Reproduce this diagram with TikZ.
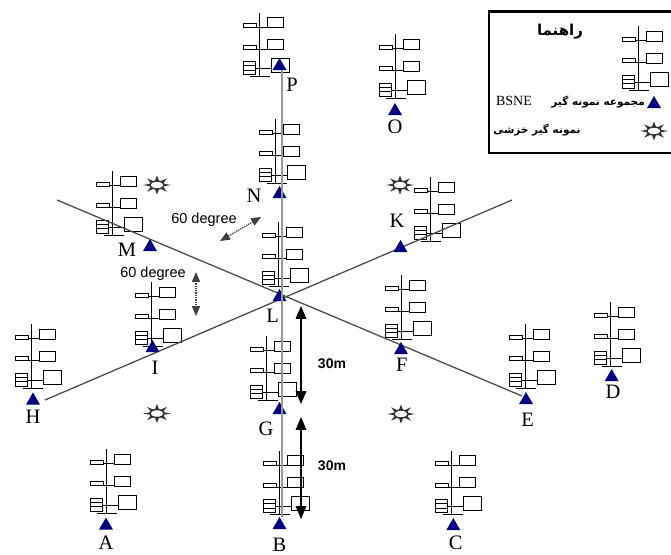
\documentclass[tikz,border=0pt]{standalone}
\usepackage{fontspec}
\setmainfont{Liberation Serif}
\newfontfamily\arialfont{Liberation Sans}
\newfontfamily\farsifont[Script=Arabic]{DejaVu Sans}
\TeXXeTstate=1
\usetikzlibrary{arrows,shapes.geometric}
\definecolor{bsneblue}{RGB}{0,0,128}
\tikzset{
  samp_tri/.style = {regular polygon, regular polygon sides=3, fill=bsneblue,
    inner sep=0pt, minimum size=16pt},% BSNE sampler
  samp_lbl/.style = {inner sep=0pt, font=\fontsize{20.5}{21}\selectfont},
  deg_lbl/.style = {inner sep=0pt, font=\arialfont\fontsize{14.5}{15}\selectfont},
  dist_lbl/.style = {inner sep=0pt, font=\arialfont\bfseries\fontsize{14}{14}\selectfont},
  fa_lbl/.style = {inner sep=0pt, font=\farsifont\bfseries\fontsize{10.5}{11}\selectfont},
  trans_ln/.style = {line width=1.3pt, black!70},
  axis_ln/.style = {line width=2.5pt, black!40},
  deg_arr/.style = {<->, >=triangle 45, densely dotted, line width=1.3pt, black!75},
  dist_arr/.style = {<->, >=triangle 45, line width=2pt},
  sampler/.pic = {
    \draw[line width=0.9pt] (0,0) -- (0,64) (-9,64) -- (11,64);
    \draw[line width=0.9pt] (-16,11) rectangle (-3,15) (8,5) rectangle (24,15)
      (-3,14.5) -- (8,14.5);
    \draw[line width=0.9pt] (-16,32.5) rectangle (-3,36.5) (8,27) rectangle (24,37)
      (-3,36.5) -- (8,36.5);
    \draw[line width=0.9pt] (-16,49) rectangle (-4,62) (-16,53.3) -- (-4,53.3)
      (-16,57.6) -- (-4,57.6) (12,46) rectangle (30,60) (-4,56) -- (12,56);
  },
  creep/.pic = {
    \draw[line width=1.4pt, black!80] (0,0) ellipse (7 and 4);
    \foreach \a in {0,45,...,315}
      \fill[black!80] ({7*cos(\a-18)},{4*sin(\a-18)}) -- ({14*cos(\a)},{9.5*sin(\a)})
        -- ({7*cos(\a+18)},{4*sin(\a+18)}) -- cycle;
  }
}

\begin{document}
\begin{tikzpicture}[x=1pt,y=-1pt]
\useasboundingbox (0,0) rectangle (671,554);

% sampler towers
\foreach \mx/\my in {259/12.5, 395/34, 275.5/119, 112.5/171, 430/177, 278.3/222,
    151.7/282, 401/275, 31.7/324, 266.7/336, 525/324, 610.7/302, 106/449,
    279.3/450.5, 451.7/450.5, 638.3/26}
  \pic at (\mx,\my) {sampler};

% creep samplers
\foreach \sx/\sy in {157/185, 400/185, 157/413.5, 401/414, 654/131}
  \pic at (\sx,\sy) {creep};

% transects
\coordinate (nw) at (57,200);
\coordinate (se) at (522,396);
\coordinate (sw) at (45,400);
\coordinate (ne) at (512,200);
\draw[trans_ln] (nw) -- (se);
\draw[trans_ln] (sw) -- (ne);

% BSNE points
\node[samp_tri] (tP) at (279.5,66) {};
\node[samp_tri] (tO) at (395,111) {};
\node[samp_tri] (tN) at (279.5,194) {};
\node[samp_tri] (tM) at (150,247) {};
\node[samp_tri] (tK) at (400.5,248) {};
\node[samp_tri] (tL) at (279.5,297) {};
\node[samp_tri] (tI) at (152.5,348) {};
\node[samp_tri] (tF) at (401,350) {};
\node[samp_tri] (tH) at (33,400.5) {};
\node[samp_tri] (tG) at (279.5,410) {};
\node[samp_tri] (tE) at (526,400) {};
\node[samp_tri] (tD) at (611.7,377) {};
\node[samp_tri] (tA) at (106,525.5) {};
\node[samp_tri] (tB) at (279.5,525) {};
\node[samp_tri] (tC) at (453.3,526) {};

\draw[axis_ln] ([xshift=2.5pt]tP.south) -- ([xshift=2.5pt]tB.north);

\node[samp_lbl] (lP) at (292,85) {P};
\node[samp_lbl] (lO) at (395,127) {O};
\node[samp_lbl] (lN) at (254,196) {N};
\node[samp_lbl] (lM) at (127,250) {M};
\node[samp_lbl] (lK) at (397,221) {K};
\node[samp_lbl] (lL) at (272.7,316) {L};
\node[samp_lbl] (lI) at (155,368) {I};
\node[samp_lbl] (lF) at (401.7,365) {F};
\node[samp_lbl] (lH) at (33,417) {H};
\node[samp_lbl] (lG) at (266,429) {G};
\node[samp_lbl] (lE) at (527.7,420) {E};
\node[samp_lbl] (lD) at (613,392) {D};
\node[samp_lbl] (lA) at (106,543) {A};
\node[samp_lbl] (lB) at (279.5,545) {B};
\node[samp_lbl] (lC) at (455.7,543) {C};

% angles
\coordinate (d1a) at (261,217);
\coordinate (d1b) at (220,241);
\coordinate (d2a) at (196,272);
\coordinate (d2b) at (196,316);
\draw[deg_arr] (d1a) -- (d1b);
\draw[deg_arr] (d2a) -- (d2b);
\node[deg_lbl] (deg1) at (204,220) {60 degree};
\node[deg_lbl] (deg2) at (153,274) {60 degree};

% distances
\coordinate (m1a) at (301,306);
\coordinate (m1b) at (301,404);
\coordinate (m2a) at (301,417);
\coordinate (m2b) at (301,519);
\draw[dist_arr] (m1a) -- (m1b);
\draw[dist_arr] (m2a) -- (m2b);
\node[dist_lbl] (dist1) at (332,364) {30m};
\node[dist_lbl] (dist2) at (332,466) {30m};

% legend
\draw[line width=2.2pt] (489,11.5) rectangle (680,153);
\node[fa_lbl, font=\farsifont\bfseries\fontsize{15}{15}\selectfont] (title) at (560,32) {\beginR راهنما\endR};
\node[samp_tri] (tLeg) at (654,104) {};
\node[fa_lbl, anchor=east] (legBsne) at (645,102) {\beginR مجموعه نمونه گیر\endR};
\node[inner sep=0pt, font=\fontsize{14}{14}\selectfont] (bsne) at (514,101) {BSNE};
\node[fa_lbl] (legCreep) at (537,130) {\beginR نمونه گیر خزشی\endR};
\end{tikzpicture}
\end{document}
